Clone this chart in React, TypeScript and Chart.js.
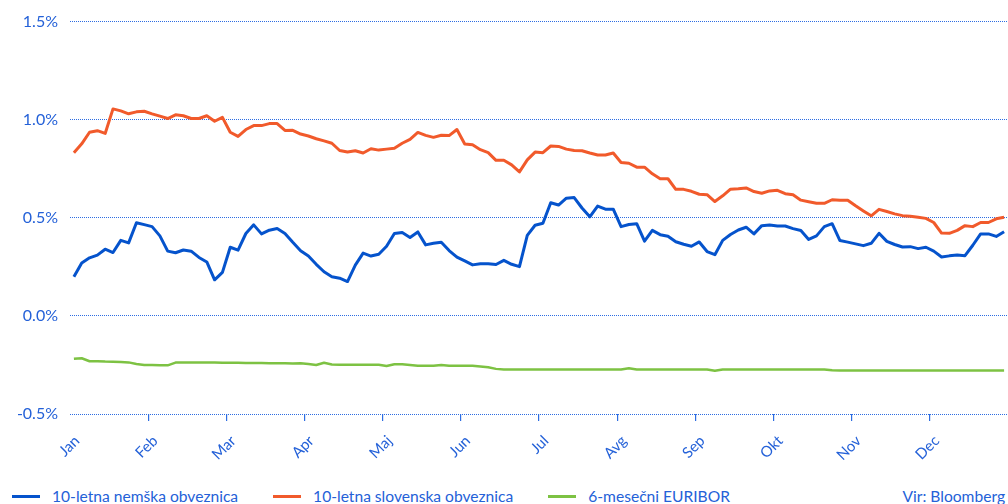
import React, { useEffect, useRef } from "react";
import { Chart, registerables } from "chart.js";

Chart.register(...registerables);

const MONTHS = ["Jan", "Feb", "Mar", "Apr", "Maj", "Jun", "Jul", "Avg", "Sep", "Okt", "Nov", "Dec"];
const POINTS_PER_MONTH = 10;

const DE_10Y = [
  0.2, 0.27, 0.296, 0.31, 0.34, 0.323, 0.385, 0.372, 0.475, 0.465,
  0.455, 0.408, 0.33, 0.322, 0.336, 0.33, 0.298, 0.275, 0.184, 0.222,
  0.35, 0.335, 0.42, 0.464, 0.418, 0.437, 0.445, 0.42, 0.375, 0.332,
  0.305, 0.263, 0.225, 0.2, 0.192, 0.175, 0.259, 0.32, 0.305, 0.314,
  0.355, 0.42, 0.425, 0.4, 0.428, 0.362, 0.37, 0.375, 0.333, 0.3,
  0.28, 0.26, 0.266, 0.266, 0.262, 0.283, 0.263, 0.251, 0.41, 0.462,
  0.472, 0.577, 0.565, 0.6, 0.603, 0.55, 0.505, 0.56, 0.544, 0.544,
  0.455, 0.466, 0.47, 0.381, 0.436, 0.414, 0.406, 0.378, 0.365, 0.355,
  0.377, 0.328, 0.312, 0.385, 0.415, 0.438, 0.452, 0.418, 0.46, 0.463,
  0.458, 0.458, 0.445, 0.435, 0.39, 0.408, 0.455, 0.47, 0.384, 0.376,
  0.367, 0.358, 0.37, 0.421, 0.38, 0.364, 0.351, 0.353, 0.343, 0.35,
  0.33, 0.3, 0.306, 0.31, 0.307, 0.36, 0.418, 0.418, 0.405, 0.429,
];

const SI_10Y = [
  0.832, 0.877, 0.936, 0.944, 0.93, 1.055, 1.045, 1.03, 1.04, 1.043,
  1.03, 1.018, 1.006, 1.025, 1.02, 1.006, 1.006, 1.02, 0.992, 1.012,
  0.936, 0.915, 0.95, 0.97, 0.97, 0.98, 0.98, 0.945, 0.946, 0.927,
  0.917, 0.903, 0.892, 0.88, 0.843, 0.835, 0.842, 0.83, 0.852, 0.845,
  0.85, 0.855, 0.88, 0.9, 0.935, 0.92, 0.91, 0.921, 0.919, 0.95,
  0.876, 0.872, 0.847, 0.832, 0.793, 0.793, 0.77, 0.734, 0.795, 0.835,
  0.832, 0.866, 0.864, 0.85, 0.843, 0.842, 0.83, 0.82, 0.82, 0.83,
  0.782, 0.778, 0.758, 0.758, 0.724, 0.699, 0.699, 0.645, 0.645, 0.635,
  0.62, 0.618, 0.583, 0.612, 0.646, 0.648, 0.652, 0.634, 0.625, 0.637,
  0.64, 0.623, 0.617, 0.59, 0.582, 0.574, 0.574, 0.592, 0.589, 0.589,
  0.561, 0.535, 0.51, 0.543, 0.532, 0.52, 0.511, 0.508, 0.503, 0.497,
  0.476, 0.422, 0.421, 0.436, 0.46, 0.455, 0.476, 0.476, 0.495, 0.503,
];

const EURIBOR_6M = [
  -0.219, -0.216, -0.231, -0.231, -0.233, -0.234, -0.235, -0.237, -0.245, -0.25,
  -0.25, -0.251, -0.252, -0.238, -0.237, -0.237, -0.238, -0.238, -0.238, -0.239,
  -0.239, -0.239, -0.24, -0.24, -0.24, -0.241, -0.241, -0.241, -0.242, -0.241,
  -0.245, -0.25, -0.239, -0.248, -0.249, -0.249, -0.249, -0.249, -0.249, -0.249,
  -0.255, -0.246, -0.246, -0.25, -0.254, -0.254, -0.254, -0.25, -0.254, -0.254,
  -0.254, -0.254, -0.258, -0.262, -0.27, -0.273, -0.273, -0.273, -0.273, -0.273,
  -0.273, -0.273, -0.273, -0.273, -0.273, -0.273, -0.273, -0.273, -0.273, -0.273,
  -0.273, -0.267, -0.273, -0.273, -0.273, -0.273, -0.273, -0.273, -0.273, -0.273,
  -0.273, -0.273, -0.28, -0.273, -0.273, -0.273, -0.273, -0.273, -0.273, -0.273,
  -0.273, -0.273, -0.273, -0.273, -0.273, -0.273, -0.273, -0.277, -0.278, -0.278,
  -0.278, -0.278, -0.278, -0.278, -0.278, -0.278, -0.278, -0.278, -0.278, -0.278,
  -0.278, -0.278, -0.278, -0.278, -0.278, -0.278, -0.278, -0.278, -0.278, -0.278,
];

const Y_TICKS = [-0.5, 0, 0.5, 1.0, 1.5];

const SERIES = [
  { label: "10-letna nemška obveznica", data: DE_10Y, color: "#0553cc", width: 3 },
  { label: "10-letna slovenska obveznica", data: SI_10Y, color: "#f15a2b", width: 3 },
  { label: "6-mesečni EURIBOR", data: EURIBOR_6M, color: "#7dc243", width: 2.5 },
];
const SOURCE = "Vir: Bloomberg";

const TEXT = "#2461d8";
const GRID = "#2d6de2";
const FONT = "Lato, 'Open Sans', sans-serif";

export default function App() {
  const ref = useRef<HTMLCanvasElement | null>(null);

  useEffect(() => {
    document.body.style.margin = "0";
    const ctx = ref.current!;
    const total = MONTHS.length * POINTS_PER_MONTH;
    const chart = new Chart(ctx, {
      type: "line",
      data: {
        datasets: SERIES.map((s) => ({
          label: s.label,
          data: s.data.map((v, i) => ({ x: i + 0.5, y: v })),
          borderColor: s.color,
          backgroundColor: s.color,
          borderWidth: s.width,
          pointRadius: 0,
          tension: 0,
          borderJoinStyle: "round" as const,
        })),
      },
      options: {
        animation: false,
        responsive: false,
        maintainAspectRatio: false,
        layout: { padding: { top: 18, right: 0, left: 0, bottom: 0 } },
        plugins: { legend: { display: false }, tooltip: { enabled: false } },
        scales: {
          x: {
            type: "linear",
            min: 0,
            max: total,
            afterBuildTicks: (scale: any) => {
              scale.ticks = MONTHS.map((_, i) => ({ value: i * POINTS_PER_MONTH }));
            },
            afterFit: (scale: any) => {
              scale.height = 56;
            },
            grid: {
              drawOnChartArea: false,
              drawTicks: true,
              tickLength: 7,
              color: (c: any) => (c.index === 0 ? "rgba(0,0,0,0)" : GRID),
              lineWidth: 1.2,
            },
            border: { display: false },
            ticks: {
              autoSkip: false,
              minRotation: 45,
              maxRotation: 45,
              padding: 11,
              labelOffset: 7,
              color: TEXT,
              font: { family: FONT, size: 15 },
              callback: (v: any) => MONTHS[Math.round(Number(v) / POINTS_PER_MONTH)] ?? "",
            },
          },
          y: {
            min: Y_TICKS[0],
            max: Y_TICKS[Y_TICKS.length - 1],
            afterBuildTicks: (scale: any) => {
              scale.ticks = Y_TICKS.map((v) => ({ value: v }));
            },
            afterFit: (scale: any) => {
              scale.width = 70;
            },
            grid: { drawTicks: false, color: GRID, lineWidth: 1 },
            border: { display: false, dash: [1, 1] },
            ticks: {
              padding: 12,
              color: TEXT,
              font: { family: FONT, size: 16 },
              callback: (v: any) => Number(v).toFixed(1) + "%",
            },
          },
        },
      },
    });
    return () => chart.destroy();
  }, []);

  return (
    <div style={{ position: "relative", width: 1008, height: 504, fontFamily: FONT, color: TEXT, background: "#fff" }}>
      <canvas ref={ref} width={1008} height={470} style={{ display: "block", width: 1008, height: 470 }} />
      <div
        style={{
          position: "absolute",
          left: 12,
          right: 3,
          top: 486,
          height: 20,
          display: "flex",
          alignItems: "center",
          fontSize: 15.6,
          whiteSpace: "nowrap",
        }}
      >
        {SERIES.map((s) => (
          <div key={s.label} style={{ display: "flex", alignItems: "center", marginRight: 35 }}>
            <span style={{ display: "inline-block", width: 28, height: 3, background: s.color, marginRight: 12 }} />
            <span>{s.label}</span>
          </div>
        ))}
        <div style={{ marginLeft: "auto" }}>{SOURCE}</div>
      </div>
    </div>
  );
}
